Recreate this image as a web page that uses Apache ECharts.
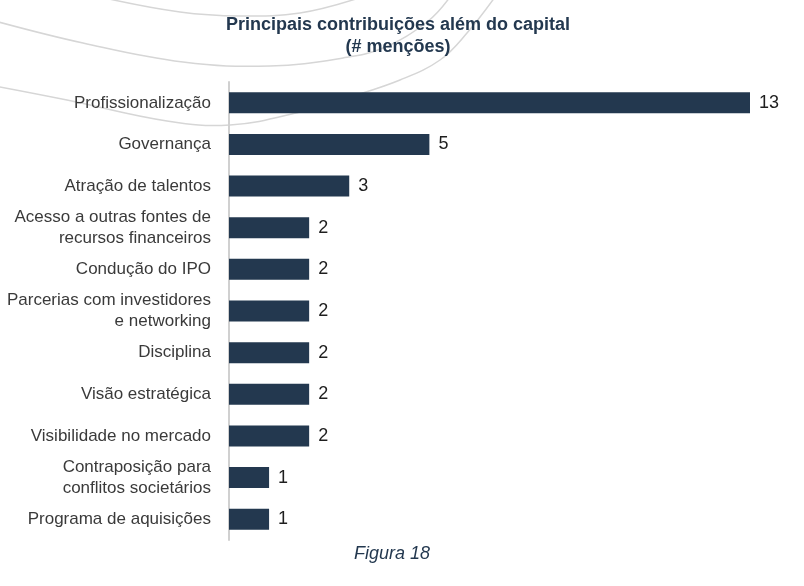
<!DOCTYPE html>
<html>
<head>
<meta charset="utf-8">
<script src="https://cdn.jsdelivr.net/npm/echarts@6/dist/echarts.min.js"></script>
<style>
  html, body { margin: 0; padding: 0; background: #fff; }
  #chart { width: 804px; height: 586px; }
</style>
</head>
<body>
<div id="chart"></div>
<script>
// categorias e número de menções
var categories = [
  'Profissionalização',
  'Governança',
  'Atração de talentos',
  'Acesso a outras fontes de\nrecursos financeiros',
  'Condução do IPO',
  'Parcerias com investidores\ne networking',
  'Disciplina',
  'Visão estratégica',
  'Visibilidade no mercado',
  'Contraposição para\nconflitos societários',
  'Programa de aquisições'
]
var mentions = [13, 5, 3, 2, 2, 2, 2, 2, 2, 1, 1]

var titleText = 'Principais contribuições além do capital\n(# menções)'
var captionText = 'Figura 18'

var navy = '#23384f'
var arcColor = '#d6d6d6'

// arcos decorativos no fundo
function arc(points) {
  return {
    type: 'polyline',
    silent: true,
    shape: { points: points, smooth: 0.4 },
    style: { stroke: arcColor, lineWidth: 1.5, fill: null }
  }
}

var chart = echarts.init(document.getElementById('chart'))

var option = {
  backgroundColor: '#fff',
  animation: false,
  title: {
    text: titleText,
    left: 393,
    top: 9,
    textAlign: 'center',
    textStyle: {
      fontFamily: 'Liberation Sans',
      fontSize: 18,
      fontWeight: 'bold',
      color: navy,
      lineHeight: 22
    }
  },
  graphic: [
    arc([[100, -3], [180, 12], [240, 16], [300, 13], [362, -3]]),
    arc([[-5, 21], [83, 43], [183, 62], [270, 66], [343, 58], [383, 48], [427, 22], [450, -3]]),
    arc([[-5, 86], [67, 100], [167, 121], [230, 125], [300, 112], [350, 97], [400, 80], [440, 60], [467, 33], [495, -3]]),
    {
      type: 'text',
      x: 392,
      y: 545,
      style: {
        text: captionText,
        align: 'center',
        fontFamily: 'Liberation Sans',
        fontSize: 18,
        fontStyle: 'italic',
        fill: navy
      }
    }
  ],
  grid: {
    left: 229,
    right: 54,
    top: 82,
    bottom: 46
  },
  xAxis: {
    type: 'value',
    min: 0,
    max: 13,
    show: false
  },
  yAxis: {
    type: 'category',
    inverse: true,
    data: categories,
    axisLine: {
      show: true,
      lineStyle: { color: '#d0d0d0', width: 2 }
    },
    axisTick: { show: false },
    axisLabel: {
      margin: 18,
      fontFamily: 'Liberation Sans',
      fontSize: 17,
      color: '#3a3a3a',
      lineHeight: 21,
      align: 'right'
    }
  },
  series: [
    {
      type: 'bar',
      data: mentions,
      barWidth: 21,
      itemStyle: { color: navy },
      label: {
        show: true,
        position: 'right',
        distance: 9,
        fontFamily: 'Liberation Sans',
        fontSize: 18,
        color: '#1e1e1e'
      }
    }
  ]
}

chart.setOption(option)
</script>
</body>
</html>
